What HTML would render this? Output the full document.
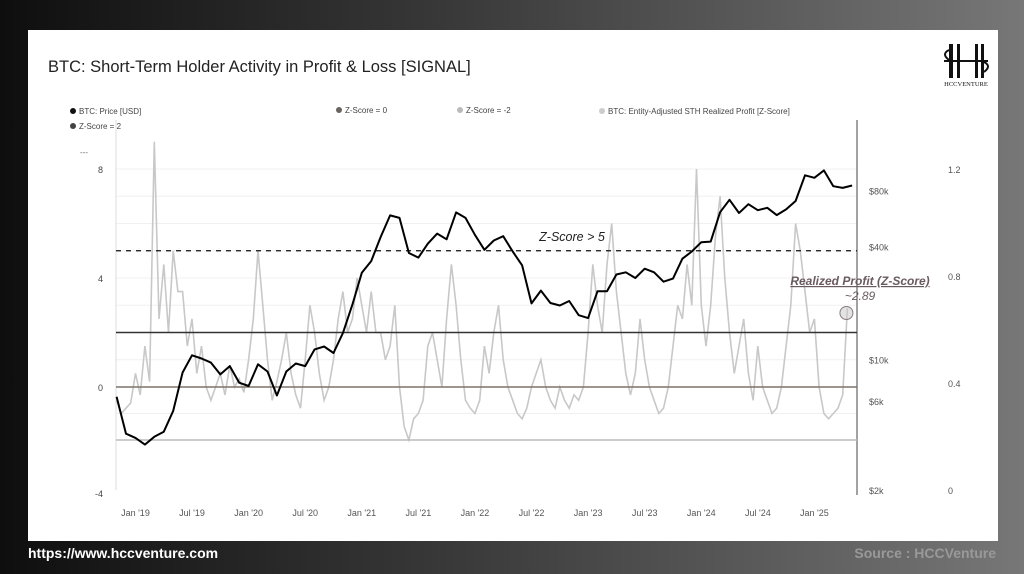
<!DOCTYPE html>
<html><head><meta charset="utf-8"><style>
html,body{margin:0;padding:0;width:1024px;height:574px;overflow:hidden;font-family:"Liberation Sans",sans-serif}
body{background:linear-gradient(90deg,#0e0e0e 0%,#3a3a3a 45%,#777 100%);position:relative}
.card{position:absolute;left:28px;top:30px;width:970px;height:511px;background:#fff}
.foot{position:absolute;top:545px;font-size:14px;font-weight:bold}
</style></head><body>
<div class="card"></div>
<div class="foot" style="left:28px;color:#fff">https://www.hccventure.com</div>
<div class="foot" style="right:28px;color:#999">Source : HCCVenture</div>
<svg id="c" width="1024" height="574" style="position:absolute;left:0;top:0">
<text x="48" y="72" font-size="16.5" fill="#222">BTC: Short-Term Holder Activity in Profit &amp; Loss [SIGNAL]</text>
<g>
<rect x="949" y="44" width="4" height="34" fill="#111"/><rect x="957" y="44" width="3" height="34" fill="#111"/>
<rect x="975" y="44" width="3" height="34" fill="#111"/><rect x="981" y="44" width="3" height="34" fill="#111"/>
<rect x="944" y="60" width="44" height="2" fill="#111"/>
<path d="M949 50 q-8 4 0 10" stroke="#111" fill="none" stroke-width="2"/><path d="M984 62 q8 4 0 10" stroke="#111" fill="none" stroke-width="2"/>
<text x="966" y="86" font-size="6.5" font-family="Liberation Serif" text-anchor="middle" fill="#111">HCCVENTURE</text>
</g>
<g font-size="8" fill="#444">
<g><circle cx="73" cy="111" r="3" fill="#111"/><text x="79" y="114">BTC: Price [USD]</text></g>
<g><circle cx="73" cy="126" r="3" fill="#444"/><text x="79" y="129">Z-Score = 2</text></g>
<g><circle cx="339" cy="110" r="3" fill="#6b6360"/><text x="345" y="113">Z-Score = 0</text></g>
<g><circle cx="460" cy="110" r="3" fill="#bbb"/><text x="466" y="113">Z-Score = -2</text></g>
<g><circle cx="602" cy="111" r="3" fill="#ccc"/><text x="608" y="114">BTC: Entity-Adjusted STH Realized Profit [Z-Score]</text></g>
</g>
<text x="80" y="155" font-size="8" fill="#666">---</text>
<g id="grid"></g><g id="axes"></g><g id="series"></g>
</svg>
<script>
const ns="http://www.w3.org/2000/svg";
const monthLabels=["Jan '19","Jul '19","Jan '20","Jul '20","Jan '21","Jul '21","Jan '22","Jul '22","Jan '23","Jul '23","Jan '24","Jul '24","Jan '25"];
const monthLabelIdx=[2,8,14,20,26,32,38,44,50,56,62,68,74];
const zTicks=[8,4,0,-4];
const priceTicks=[2000,6000,10000,40000,80000];
const priceTickLabels=["$2k","$6k","$10k","$40k","$80k"];
const rightTicks=[0,0.4,0.8,1.2];
// monthly BTC price starting Nov 2018
const price=[6300,4000,3800,3500,3850,4100,5300,8500,10500,10100,9600,8300,9200,7500,
7200,9400,8600,6400,8600,9500,9200,11300,11700,10800,13800,19600,
29000,33500,45000,58800,57000,37000,35000,41500,47000,43800,61000,57000,
46300,38500,43200,45500,37700,31800,19900,23300,20000,19400,20500,17200,
16600,23100,23100,28400,29200,27200,30500,29200,26000,27000,34500,37700,
42300,42600,61200,71300,60600,67500,62700,64600,59000,63300,70200,96400,
93400,102400,84300,82500,85000];
// semi-monthly realized profit z-score starting Nov 2018
const zscore=[-0.5,-1.0,-0.8,-0.6,
0.5,-0.3,1.5,0.2,9,2.5,4.5,2,5,3.5,3.5,1.5,2.5,0.5,1.5,0,-0.5,0,0.5,-0.3,0.8,0,0.3,-0.2,
1,2.5,5,3,1,-0.5,0.2,1,2,0.5,-0.3,-0.8,1,3,2,0.5,-0.5,0,1,2.5,3.5,2,2.5,4,
3,2,3.5,2,2,1,1.5,3,0,-1.5,-2,-1.2,-1,-0.5,1.5,2,1,0,2.5,4.5,3,1,-0.5,-0.8,
-1,-0.5,1.5,0.5,2,3,1,0,-0.5,-1,-1.2,-0.8,0,0.5,1,0,-0.5,-0.8,0,-0.5,-0.8,-0.3,-0.5,0,
2,4.5,3,2,4.5,6,3.5,2,0.5,-0.3,0.5,2.5,1,0,-0.5,-1,-0.8,0,1.5,3,2.5,4.5,3,8,
3,1.5,3,5.5,7,4,2,0.5,1.5,2.5,0.5,-0.5,1.5,0,-0.5,-1,-0.8,0,1.5,3,6,5,3.5,2,
2.5,0,-1,-1.2,-1,-0.8,-0.3,2.89];
const zLines=[5,2,0,-2];
const X=m=>116.6+m*9.43;
const Yz=z=>z>=0?387-z*27.25:387-z*26.5;
const Yp=p=>490-(Math.log10(p)-Math.log10(2000))*187;
const Yr=r=>490-r*267.5;
function el(t,a,p){const e=document.createElementNS(ns,t);for(const k in a)e.setAttribute(k,a[k]);document.getElementById(p).appendChild(e);return e;}
// grid
for(let z=-2;z<=8;z+=1){const g=el('line',{x1:116,x2:857,y1:Yz(z),y2:Yz(z),stroke:'#f0f0f0','stroke-width':1},'grid');

}
// axes
let a=el('line',{x1:116,x2:116,y1:120,y2:490,stroke:'#ddd'},'axes');


a=el('line',{x1:857,x2:857,y1:120,y2:495,stroke:'#444'},'axes');


zTicks.forEach(z=>{const t=el('text',{x:103,y:Yz(z)+4,'font-size':9,fill:'#444','text-anchor':'end'},'axes');t.textContent=z;

});
priceTicks.forEach((p,i)=>{const t=el('text',{x:869,y:Yp(p)+4,'font-size':9,fill:'#555'},'axes');t.textContent=priceTickLabels[i];

});
rightTicks.forEach(r=>{const t=el('text',{x:948,y:Yr(r)+4,'font-size':9,fill:'#555'},'axes');t.textContent=r;

});
monthLabels.forEach((l,i)=>{const t=el('text',{x:X(monthLabelIdx[i]),y:516,'font-size':9,fill:'#555','text-anchor':'middle'},'axes');t.textContent=l;

});
// zscore series
let d=zscore.map((z,i)=>(i?'L':'M')+X(i/2).toFixed(1)+' '+Yz(z).toFixed(1)).join('');
let s=el('path',{d:d,fill:'none',stroke:'#c8c8c8','stroke-width':1.6},'series');


// threshold lines
const lstyle={5:['#111','5,5',1.3],2:['#333','',1.5],0:['#7d746c','',1.5],'-2':['#bbb','',1.5]};
zLines.forEach(z=>{const st=lstyle[z];const l=el('line',{x1:116,x2:857,y1:Yz(z),y2:Yz(z),stroke:st[0],'stroke-width':st[2],'stroke-dasharray':st[1]},'series');

});
// price
d=price.map((p,i)=>(i?'L':'M')+X(i).toFixed(1)+' '+Yp(p).toFixed(1)).join('');
s=el('path',{d:d,fill:'none',stroke:'#000','stroke-width':2,'stroke-linejoin':'round'},'series');


// annotations
let t=el('text',{x:572,y:241,'font-size':12.5,'font-style':'italic',fill:'#222','text-anchor':'middle'},'series');t.textContent='Z-Score > 5';


t=el('text',{x:860,y:285,'font-size':12,'font-style':'italic','font-weight':'bold',fill:'#6a5a60','text-anchor':'middle','text-decoration':'underline'},'series');t.textContent='Realized Profit (Z-Score)';


t=el('text',{x:860,y:300,'font-size':12,'font-style':'italic',fill:'#6a5a60','text-anchor':'middle'},'series');t.textContent='~'+zscore[zscore.length-1];


const c=el('circle',{cx:X((zscore.length-1)/2)-1,cy:313,r:6.5,fill:'rgba(200,200,200,0.5)',stroke:'#8a7a7e','stroke-width':1},'series');


</script>
</body></html>
